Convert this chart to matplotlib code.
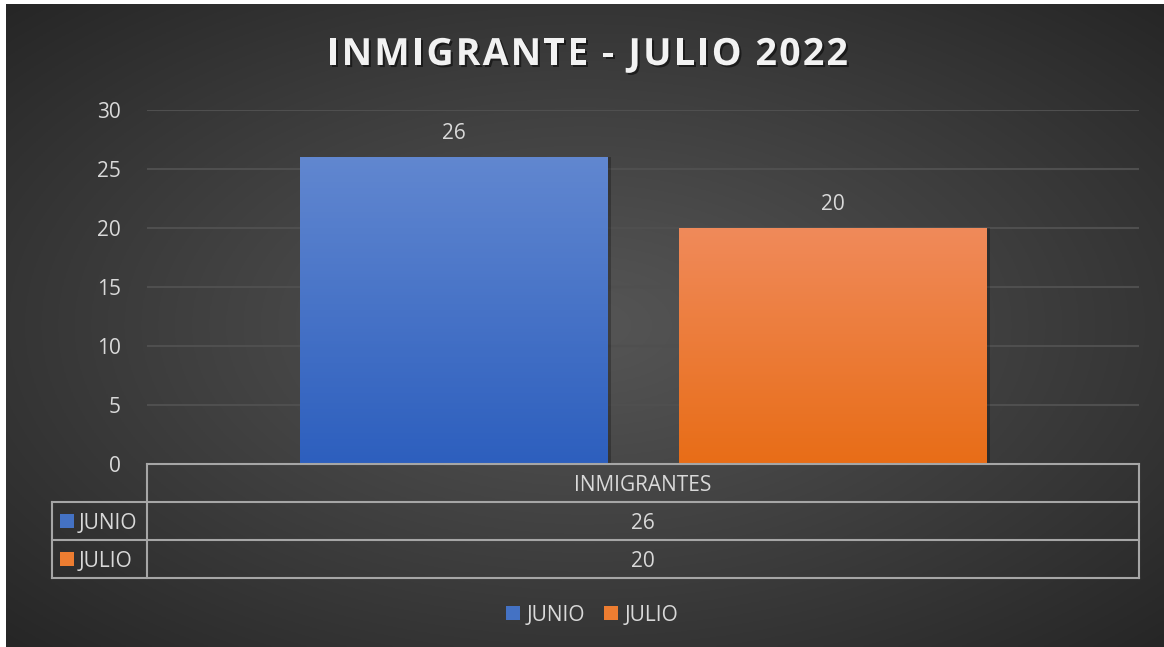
import matplotlib
matplotlib.use('Agg')
import numpy as np
import matplotlib.pyplot as plt
from matplotlib import patheffects as pe
from matplotlib.patches import Rectangle

plt.rcParams['font.family'] = ['Open Sans', 'DejaVu Sans']

# datos
titulo = 'INMIGRANTE - JULIO 2022'
categoria = 'INMIGRANTES'
series = ['JUNIO', 'JULIO']
valores = [26, 20]
colores_top = ['#6187d0', '#f08a5a']
colores_bot = ['#2d5fbe', '#e86d17']
colores_leyenda = ['#4472c4', '#ed7d31']
yticks = [0, 5, 10, 15, 20, 25, 30]

W, H = 1164, 647
fig = plt.figure(figsize=(W / 100, H / 100), dpi=100)
fig.patch.set_facecolor('white')

# fondo degradado radial
bg = fig.add_axes([6 / W, 0, 1 - 6 / W, 1 - 4 / H])
bg.set_axis_off()
yy, xx = np.mgrid[0:1:300j, 0:1:500j]
r = np.sqrt(((xx - 0.5) / 0.5) ** 2 + ((yy - 0.5) / 0.5) ** 2) / np.sqrt(2)
c0, c1 = np.array([0x55, 0x55, 0x55]) / 255, np.array([0x26, 0x26, 0x26]) / 255
img = c0 + (c1 - c0) * np.clip(r, 0, 1)[..., None] ** 1.1
bg.imshow(img, extent=[0, 1, 0, 1], aspect='auto')
bg.set_xlim(0, 1); bg.set_ylim(0, 1)


def fx(px):
    return px / W


def fy(py):
    return 1 - py / H


fs = 15
dy = 2.5  # ajuste vertical del texto
# area de grafico
ax = fig.add_axes([fx(147), fy(464), fx(1139) - fx(147), fy(110) - fy(464)])
ax.set_facecolor('none')
for s in ax.spines.values():
    s.set_visible(False)
ax.set_yticks(yticks)
ax.tick_params(axis='y', length=0, pad=19, labelsize=fs, labelcolor='#d9d9d9')
ax.set_xticks([])
ax.grid(axis='y', color='#4f4f4f', lw=1.5)
ax.set_axisbelow(True)

offsets = [-0.191, 0.191]
ancho = 0.31
grad = np.linspace(1, 0, 100)[:, None]
for i, (v, ct, cb) in enumerate(zip(valores, colores_top, colores_bot)):
    x0 = offsets[i] - ancho / 2
    bars = ax.bar(offsets[i], v, width=ancho, color='none', zorder=3)
    ct_ = np.array(matplotlib.colors.to_rgb(ct))
    cb_ = np.array(matplotlib.colors.to_rgb(cb))
    g = cb_ + (ct_ - cb_) * grad[..., None]
    g = np.repeat(g, 2, axis=1)
    im = ax.imshow(g, extent=[x0, x0 + ancho, 0, v], aspect='auto', zorder=3)
    im.set_clip_path(bars[0])
    ax.add_patch(Rectangle((x0 + ancho, 0), 0.004, v, color='black', alpha=0.25, lw=0, zorder=2))
    ax.text(offsets[i], v + 1.1, str(v), ha='center', va='bottom', color='#d9d9d9', fontsize=fs, zorder=4)
ax.set_xlim(-0.5, 0.5)
ax.set_ylim(0, 30)

# titulo con espaciado entre letras
renderer = fig.canvas.get_renderer()
kw = dict(color='#f2f2f2', fontsize=27, fontweight='bold', va='baseline', ha='left',
          path_effects=[pe.withSimplePatchShadow(offset=(1.5, -1.5), shadow_rgbFace='black', alpha=0.5)])
anchos = []
for ch in titulo:
    if ch == ' ':
        t = fig.text(0, 0, 'I I', **kw)
        w1 = t.get_window_extent(renderer).width
        t.set_text('II')
        w2 = t.get_window_extent(renderer).width
        anchos.append(w1 - w2)
    else:
        t = fig.text(0, 0, ch, **kw)
        anchos.append(t.get_window_extent(renderer).width)
    t.remove()
total = 521
track = (total - sum(anchos)) / (len(titulo) - 1)
x = 327
for ch, w in zip(titulo, anchos):
    if ch != ' ':
        fig.text(fx(x), fy(65), ch, **kw)
    x += w + track

# tabla de datos
lc = '#a6a6a6'
lw = 1.5
filas = [464, 502, 540, 578]
fig.add_artist(plt.Line2D([fx(147), fx(1139)], [fy(464), fy(464)], color=lc, lw=lw))
for py in filas[1:]:
    fig.add_artist(plt.Line2D([fx(52), fx(1139)], [fy(py), fy(py)], color=lc, lw=lw))
fig.add_artist(plt.Line2D([fx(147), fx(147)], [fy(464), fy(578)], color=lc, lw=lw))
fig.add_artist(plt.Line2D([fx(1139), fx(1139)], [fy(464), fy(578)], color=lc, lw=lw))
fig.add_artist(plt.Line2D([fx(52), fx(52)], [fy(502), fy(578)], color=lc, lw=lw))

fig.text(fx(643), fy(483 + dy), categoria, ha='center', va='center', color='#d9d9d9', fontsize=fs)
for i, (nombre, v, col) in enumerate(zip(series, valores, colores_leyenda)):
    yc = (filas[i + 1] + filas[i + 2]) / 2
    fig.add_artist(Rectangle((fx(60), fy(yc + 7)), fx(14), 14 / H, color=col, lw=0))
    fig.text(fx(79), fy(yc + dy), nombre, ha='left', va='center', color='#d9d9d9', fontsize=fs)
    fig.text(fx(643), fy(yc + dy), str(v), ha='center', va='center', color='#d9d9d9', fontsize=fs)

# leyenda
leg_x = [506, 604]
for i, (nombre, col) in enumerate(zip(series, colores_leyenda)):
    fig.add_artist(Rectangle((fx(leg_x[i]), fy(620)), fx(14), 14 / H, color=col, lw=0))
    fig.text(fx(leg_x[i] + 21), fy(613 + dy), nombre, ha='left', va='center', color='#d9d9d9', fontsize=fs)

fig.savefig('out.png', dpi=100, facecolor=fig.get_facecolor())
